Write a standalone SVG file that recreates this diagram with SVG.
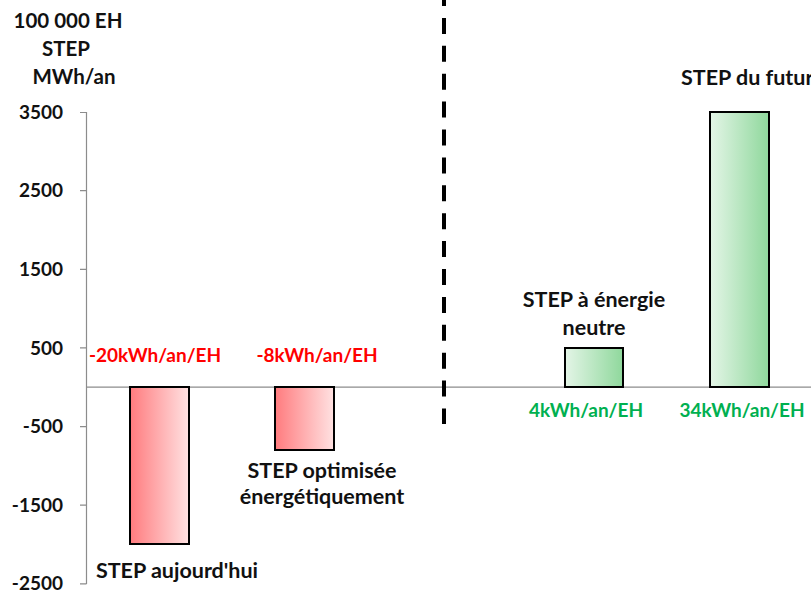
<svg xmlns="http://www.w3.org/2000/svg" width="811" height="593" viewBox="0 0 811 593">
<style>
text{font-family:Lato,"Liberation Sans",sans-serif;font-weight:bold;font-size:19px;fill:#111}
.tick{text-anchor:end}
.c{text-anchor:middle}
.w{font-size:21.5px}
.t{font-size:20.5px}
.red{fill:#ff0000}
.grn{fill:#00b050}
.axis{stroke:#8c8c8c;stroke-width:1.2;fill:none}
.bar{stroke:#000;stroke-width:2}
</style>
<defs>
<linearGradient id="gRed" x1="0" y1="0" x2="1" y2="0">
<stop offset="0" stop-color="#ff7b7e"/>
<stop offset="1" stop-color="#ffe2e2"/>
</linearGradient>
<linearGradient id="gGreen" x1="0" y1="0" x2="1" y2="0">
<stop offset="0" stop-color="#e4f5e7"/>
<stop offset="1" stop-color="#8fd89c"/>
</linearGradient>
</defs>
<rect width="811" height="593" fill="#fff"/>
<g id="title">
<text class="c t" x="68" y="28">100 000 EH</text>
<text class="c t" x="66" y="56">STEP</text>
<text class="c t" x="74" y="84">MWh/an</text>
</g>
<g id="axis">
<path class="axis" d="M86.5,112V584M80,112.5H86.5M80,190.6H86.5M80,269.3H86.5M80,347.9H86.5M80,426.6H86.5M80,505.2H86.5M80,583.9H86.5"/>
<path class="axis" d="M86,387.2H811"/>
<text class="tick" x="63" y="119">3500</text>
<text class="tick" x="63" y="197">2500</text>
<text class="tick" x="63" y="276">1500</text>
<text class="tick" x="63" y="355">500</text>
<text class="tick" x="63" y="433">-500</text>
<text class="tick" x="63" y="512">-1500</text>
<text class="tick" x="63" y="590">-2500</text>
</g>
<g id="connectors">
<line x1="444" y1="-10" x2="444" y2="424" stroke="#000" stroke-width="4" stroke-dasharray="16 11.9"/>
</g>
<g id="bar-today">
<rect class="bar" x="130" y="387" width="59" height="157" fill="url(#gRed)"/>
<text class="c red" x="155" y="362">-20kWh/an/EH</text>
<text class="c w" x="177" y="578">STEP aujourd'hui</text>
</g>
<g id="bar-optimised">
<rect class="bar" x="275" y="387" width="59" height="63" fill="url(#gRed)"/>
<text class="c red" x="317" y="362">-8kWh/an/EH</text>
<text class="c w" x="322" y="478">STEP optimisée</text>
<text class="c w" x="322" y="504">énergétiquement</text>
</g>
<g id="bar-neutral">
<rect class="bar" x="565" y="348" width="58" height="39" fill="url(#gGreen)"/>
<text class="c w" x="594" y="307">STEP à énergie</text>
<text class="c w" x="594" y="335">neutre</text>
<text class="c grn" x="586" y="417">4kWh/an/EH</text>
</g>
<g id="bar-future">
<rect class="bar" x="710" y="112" width="59" height="275" fill="url(#gGreen)"/>
<text class="w" x="681" y="85">STEP du futur</text>
<text class="c grn" x="742" y="417">34kWh/an/EH</text>
</g>
</svg>
